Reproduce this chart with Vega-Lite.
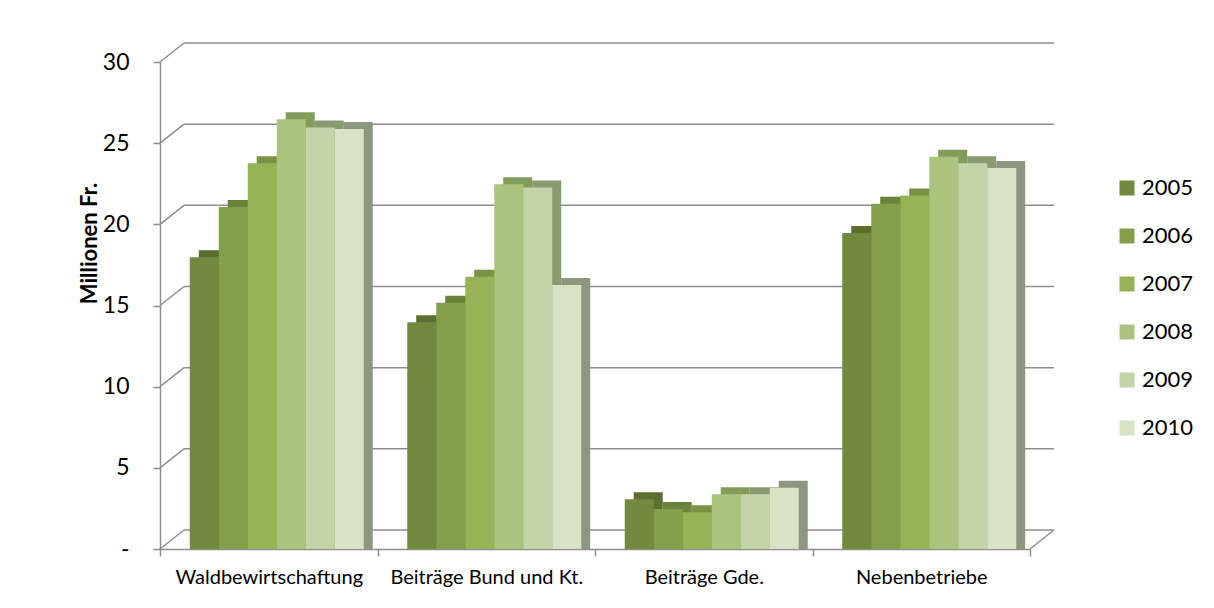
{
  "$schema": "https://vega.github.io/schema/vega-lite/v6.json",
  "width": 870,
  "height": 487,
  "autosize": {"type": "none"},
  "padding": {"left": 160, "top": 62, "right": 184, "bottom": 59},
  "background": "white",
  "config": {"view": {"stroke": null}, "font": "Lato"},
  "datasets": {
    "bars": [
      {"cat": "Waldbewirtschaftung", "year": "2005", "value": 17.6},
      {"cat": "Waldbewirtschaftung", "year": "2006", "value": 20.7},
      {"cat": "Waldbewirtschaftung", "year": "2007", "value": 23.4},
      {"cat": "Waldbewirtschaftung", "year": "2008", "value": 26.1},
      {"cat": "Waldbewirtschaftung", "year": "2009", "value": 25.6},
      {"cat": "Waldbewirtschaftung", "year": "2010", "value": 25.5},
      {"cat": "Beiträge Bund und Kt.", "year": "2005", "value": 13.6},
      {"cat": "Beiträge Bund und Kt.", "year": "2006", "value": 14.8},
      {"cat": "Beiträge Bund und Kt.", "year": "2007", "value": 16.4},
      {"cat": "Beiträge Bund und Kt.", "year": "2008", "value": 22.1},
      {"cat": "Beiträge Bund und Kt.", "year": "2009", "value": 21.9},
      {"cat": "Beiträge Bund und Kt.", "year": "2010", "value": 15.9},
      {"cat": "Beiträge Gde.", "year": "2005", "value": 2.7},
      {"cat": "Beiträge Gde.", "year": "2006", "value": 2.1},
      {"cat": "Beiträge Gde.", "year": "2007", "value": 1.9},
      {"cat": "Beiträge Gde.", "year": "2008", "value": 3.0},
      {"cat": "Beiträge Gde.", "year": "2009", "value": 3.0},
      {"cat": "Beiträge Gde.", "year": "2010", "value": 3.4},
      {"cat": "Nebenbetriebe", "year": "2005", "value": 19.1},
      {"cat": "Nebenbetriebe", "year": "2006", "value": 20.9},
      {"cat": "Nebenbetriebe", "year": "2007", "value": 21.4},
      {"cat": "Nebenbetriebe", "year": "2008", "value": 23.8},
      {"cat": "Nebenbetriebe", "year": "2009", "value": 23.4},
      {"cat": "Nebenbetriebe", "year": "2010", "value": 23.1}
    ],
    "grid": [
      {"value": 0}, {"value": 5}, {"value": 10}, {"value": 15},
      {"value": 20}, {"value": 25}, {"value": 30}
    ]
  },
  "layer": [
    {
      "data": {"name": "grid"},
      "mark": {"type": "rule", "color": "#8e8e8e", "strokeWidth": 1.5, "xOffset": 24, "x2Offset": 24, "yOffset": -19},
      "encoding": {
        "x": {"datum": 0, "type": "quantitative", "scale": {"domain": [0, 1], "nice": false}, "axis": null},
        "x2": {"datum": 1},
        "y": {"field": "value", "type": "quantitative", "scale": {"domain": [0, 30], "nice": false},
          "axis": {"title": "Millionen Fr.", "titleFontSize": 22, "titleFontWeight": "bold", "titleColor": "black", "titleX": -64, "titleY": 181, "titleAlign": "center", "titleBaseline": "alphabetic", "titleAngle": -90,
            "values": [0, 5, 10, 15, 20, 25, 30], "labelExpr": "datum.value == 0 ? '-\u00a0\u00a0' : datum.label", "labelFontSize": 23, "labelColor": "black", "labelPadding": 24,
            "grid": false, "domainColor": "#8e8e8e", "domainWidth": 1.5, "tickColor": "#8e8e8e", "tickWidth": 1.5, "tickSize": 7}}
      }
    },
    {
      "data": {"name": "grid"},
      "mark": {"type": "rule", "color": "#8e8e8e", "strokeWidth": 1.5, "x2Offset": 24, "y2Offset": -19},
      "encoding": {
        "x": {"datum": 0, "type": "quantitative", "scale": {"domain": [0, 1], "nice": false}, "axis": null},
        "x2": {"datum": 0},
        "y": {"field": "value", "type": "quantitative",
          "axis": {"title": "Millionen Fr.", "titleFontSize": 22, "titleFontWeight": "bold", "titleColor": "black", "titleX": -64, "titleY": 181, "titleAlign": "center", "titleBaseline": "alphabetic", "titleAngle": -90,
            "values": [0, 5, 10, 15, 20, 25, 30], "labelExpr": "datum.value == 0 ? '-\u00a0\u00a0' : datum.label", "labelFontSize": 23, "labelColor": "black", "labelPadding": 24,
            "grid": false, "domainColor": "#8e8e8e", "domainWidth": 1.5, "tickColor": "#8e8e8e", "tickWidth": 1.5, "tickSize": 7}},
        "y2": {"field": "value"}
      }
    },
    {
      "data": {"name": "grid"},
      "transform": [{"filter": "datum.value == 0"}],
      "mark": {"type": "rule", "color": "#8e8e8e", "strokeWidth": 1.5, "x2Offset": 24, "y2Offset": -19},
      "encoding": {
        "x": {"datum": 1, "type": "quantitative", "scale": {"domain": [0, 1], "nice": false}, "axis": null},
        "x2": {"datum": 1},
        "y": {"field": "value", "type": "quantitative",
          "axis": {"title": "Millionen Fr.", "titleFontSize": 22, "titleFontWeight": "bold", "titleColor": "black", "titleX": -64, "titleY": 181, "titleAlign": "center", "titleBaseline": "alphabetic", "titleAngle": -90,
            "values": [0, 5, 10, 15, 20, 25, 30], "labelExpr": "datum.value == 0 ? '-\u00a0\u00a0' : datum.label", "labelFontSize": 23, "labelColor": "black", "labelPadding": 24,
            "grid": false, "domainColor": "#8e8e8e", "domainWidth": 1.5, "tickColor": "#8e8e8e", "tickWidth": 1.5, "tickSize": 7}},
        "y2": {"field": "value"}
      }
    },
    {
      "data": {"name": "bars"},
      "resolve": {"scale": {"color": "independent", "xOffset": "independent"}},
      "layer": [
        {
          "mark": {"type": "bar", "yOffset": -13, "y2Offset": -13},
          "encoding": {
            "x": {"field": "cat", "type": "nominal", "sort": ["Waldbewirtschaftung", "Beiträge Bund und Kt.", "Beiträge Gde.", "Nebenbetriebe"], "scale": {"paddingInner": 0, "paddingOuter": 0},
              "axis": {"title": null, "labelAngle": 0, "labelFontSize": 20, "labelLimit": 0, "labelColor": "black", "labelPadding": 11, "tickBand": "extent", "domainColor": "#8e8e8e", "domainWidth": 1.5, "tickColor": "#8e8e8e", "tickWidth": 1.5, "tickSize": 7}},
            "xOffset": {"field": "year", "type": "nominal", "scale": {"paddingInner": 0, "paddingOuter": 0.75, "align": 0.89}},
            "y": {"field": "value", "type": "quantitative", "stack": null,
              "axis": {"title": "Millionen Fr.", "titleFontSize": 22, "titleFontWeight": "bold", "titleColor": "black", "titleX": -64, "titleY": 181, "titleAlign": "center", "titleBaseline": "alphabetic", "titleAngle": -90,
                "values": [0, 5, 10, 15, 20, 25, 30], "labelExpr": "datum.value == 0 ? '-\u00a0\u00a0' : datum.label", "labelFontSize": 23, "labelColor": "black", "labelPadding": 24,
                "grid": false, "domainColor": "#8e8e8e", "domainWidth": 1.5, "tickColor": "#8e8e8e", "tickWidth": 1.5, "tickSize": 7}},
            "color": {"field": "year", "type": "nominal", "scale": {"range": ["#5b6f31", "#6a833b", "#789344", "#829c5a", "#889a70", "#8d977f"]}, "legend": null}
          }
        },
        {
          "mark": {"type": "bar", "yOffset": -6, "y2Offset": -6},
          "encoding": {
            "x": {"field": "cat", "type": "nominal", "sort": ["Waldbewirtschaftung", "Beiträge Bund und Kt.", "Beiträge Gde.", "Nebenbetriebe"], "scale": {"paddingInner": 0, "paddingOuter": 0},
              "axis": {"title": null, "labelAngle": 0, "labelFontSize": 20, "labelLimit": 0, "labelColor": "black", "labelPadding": 11, "tickBand": "extent", "domainColor": "#8e8e8e", "domainWidth": 1.5, "tickColor": "#8e8e8e", "tickWidth": 1.5, "tickSize": 7}},
            "xOffset": {"field": "year", "type": "nominal", "scale": {"paddingInner": 0, "paddingOuter": 0.75, "align": 0.684}},
            "y": {"field": "value", "type": "quantitative", "stack": null,
              "axis": {"title": "Millionen Fr.", "titleFontSize": 22, "titleFontWeight": "bold", "titleColor": "black", "titleX": -64, "titleY": 181, "titleAlign": "center", "titleBaseline": "alphabetic", "titleAngle": -90,
                "values": [0, 5, 10, 15, 20, 25, 30], "labelExpr": "datum.value == 0 ? '-\u00a0\u00a0' : datum.label", "labelFontSize": 23, "labelColor": "black", "labelPadding": 24,
                "grid": false, "domainColor": "#8e8e8e", "domainWidth": 1.5, "tickColor": "#8e8e8e", "tickWidth": 1.5, "tickSize": 7}},
            "color": {"field": "year", "type": "nominal", "scale": {"range": ["#718a3f", "#83a04b", "#96b356", "#abc47d", "#c3d4a8", "#d8e3c6"]},
              "legend": {"orient": "none", "legendX": 956, "legendY": 115, "title": null, "symbolType": "square", "symbolSize": 225, "symbolStrokeWidth": 0, "symbolOpacity": 1, "labelFontSize": 22, "labelColor": "black", "labelOffset": 4, "rowPadding": 26}}
          }
        }
      ]
    }
  ],
  "resolve": {"scale": {"x": "independent"}}
}
